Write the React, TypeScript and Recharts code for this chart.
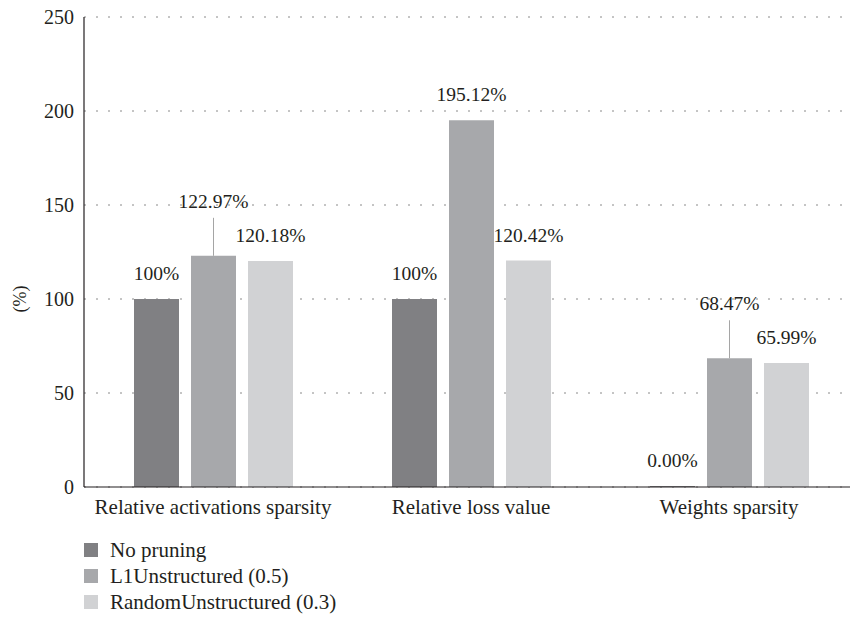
import { BarChart, Bar, XAxis, YAxis, CartesianGrid, LabelList, Label } from "recharts";

// categories and values
const categories = ["Relative activations sparsity", "Relative loss value", "Weights sparsity"];
const noPruning = [100, 100, 0];
const l1Unstructured = [122.97, 195.12, 68.47];
const randomUnstructured = [120.18, 120.42, 65.99];

const noPruningLabels = ["100%", "100%", "0.00%"];
const l1Labels = ["122.97%", "195.12%", "68.47%"];
const randomLabels = ["120.18%", "120.42%", "65.99%"];

// which labels sit higher with a leader line
const l1Leader = [true, false, true];

const yTicks = [0, 50, 100, 150, 200, 250];

const series = [
  { key: "none", name: "No pruning", color: "#808083", labels: noPruningLabels, leader: [false, false, false] },
  { key: "l1", name: "L1Unstructured (0.5)", color: "#a7a8ab", labels: l1Labels, leader: l1Leader },
  { key: "rand", name: "RandomUnstructured (0.3)", color: "#d1d2d4", labels: randomLabels, leader: [false, false, false] },
];

const chartData = categories.map((c, i) => ({
  name: c,
  none: noPruning[i],
  l1: l1Unstructured[i],
  rand: randomUnstructured[i],
}));

const FONT = "'Liberation Serif', 'Times New Roman', serif";
const TEXT = "#231f20";
const txt = { fontFamily: FONT };

const makeLabel = (labels: string[], leader: boolean[]) => (props: any) => {
  const { x, y, width, index } = props;
  const cx = Number(x) + Number(width) / 2;
  const top = Number(y);
  if (leader[index]) {
    return (
      <g>
        <line x1={cx} x2={cx} y1={top} y2={top - 38} stroke="#a5a5a5" strokeWidth={1} />
        <text x={cx} y={top - 48} textAnchor="middle" fontSize={19.5} style={txt} fill={TEXT}>
          {labels[index]}
        </text>
      </g>
    );
  }
  return (
    <text x={cx} y={top - 19} textAnchor="middle" fontSize={19.5} style={txt} fill={TEXT}>
      {labels[index]}
    </text>
  );
};

export default function App() {
  return (
    <div style={{ position: "absolute", left: 0, top: 0, width: 850, height: 617, overflow: "hidden", background: "#fff" }}>
      <BarChart
        width={858}
        height={617}
        data={chartData}
        margin={{ top: 17, right: 0, bottom: 100, left: 0 }}
        barSize={45}
        barGap={12}
      >
        <CartesianGrid vertical={false} stroke="#8a8a8a" strokeDasharray="2 10" />
        <XAxis
          dataKey="name"
          height={30}
          tickLine={false}
          tickMargin={6}
          axisLine={{ stroke: TEXT, strokeWidth: 1.2 }}
          tick={{ fontSize: 21, fontFamily: FONT, fill: TEXT }}
        />
        <YAxis
          width={84}
          domain={[0, 250]}
          ticks={yTicks}
          tickLine={false}
          tickMargin={4}
          axisLine={{ stroke: TEXT, strokeWidth: 1.2 }}
          tick={{ fontSize: 20, fontFamily: FONT, fill: TEXT }}
        >
          <Label
            content={(p: any) => {
              const vb = p.viewBox || { x: 0, y: 17, height: 470 };
              const ly = vb.y + vb.height * 0.6;
              return (
                <text
                  x={20}
                  y={ly}
                  transform={`rotate(-90 20 ${ly})`}
                  textAnchor="middle"
                  dominantBaseline="central"
                  fontSize={18}
                  style={txt}
                  fill={TEXT}
                >
                  (%)
                </text>
              );
            }}
          />
        </YAxis>
        {series.map((s) => (
          <Bar key={s.key} dataKey={s.key} name={s.name} fill={s.color} minPointSize={1} isAnimationActive={false}>
            <LabelList dataKey={s.key} content={makeLabel(s.labels, s.leader)} />
          </Bar>
        ))}
      </BarChart>
      <div style={{ position: "absolute", left: 84, top: 537, fontFamily: FONT, fontSize: 21, color: TEXT }}>
        {series.map((s) => (
          <div key={s.key} style={{ display: "flex", alignItems: "center", height: 26 }}>
            <span style={{ display: "inline-block", width: 14, height: 14, background: s.color, marginRight: 12 }} />
            <span>{s.name}</span>
          </div>
        ))}
      </div>
    </div>
  );
}
